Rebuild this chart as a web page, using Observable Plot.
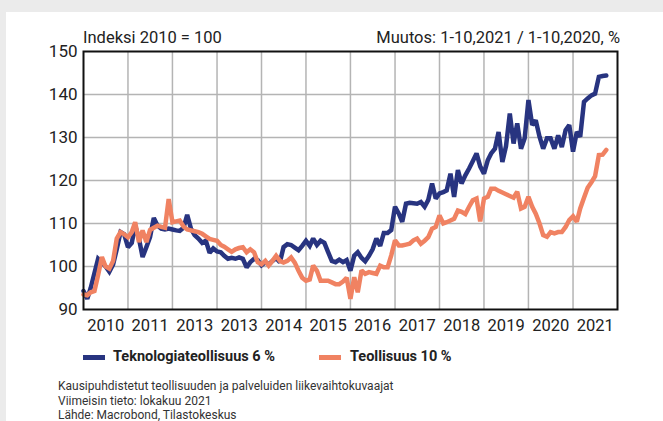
<!DOCTYPE html>
<html>
<head>
<meta charset="utf-8">
<script src="https://cdn.jsdelivr.net/npm/d3@7"></script>
<script src="https://cdn.jsdelivr.net/npm/@observablehq/plot@0.6"></script>
<style>
  html, body { margin: 0; padding: 0; width: 663px; height: 421px; overflow: hidden; background: #ebebeb; font-family: Roboto, "Noto Sans", sans-serif; }
  #card { position: absolute; left: 6px; top: 12px; right: 0; bottom: -20px; background: #fff; }
  #chart { position: absolute; left: 0; top: 0; }
  .t { position: absolute; white-space: nowrap; color: #222; }
  .sw { position: absolute; height: 5px; }
</style>
</head>
<body>
<div id="card"></div>
<div id="chart"></div>
<div class="t" style="left:83px; top:28px; font-size:16.5px;">Indeksi 2010 = 100</div>
<div class="t" style="right:43px; top:28px; font-size:16.5px;">Muutos: 1-10,2021 / 1-10,2020, %</div>
<div class="sw" id="sw1" style="left:83px; top:355px; width:22px;"></div>
<div class="t" id="lg1" style="left:113px; top:348px; font-size:14.5px; font-weight:bold;"></div>
<div class="sw" id="sw2" style="left:319px; top:355px; width:22px;"></div>
<div class="t" id="lg2" style="left:350px; top:348px; font-size:14.5px; font-weight:bold;"></div>
<div class="t" style="left:58px; top:379px; font-size:12px; line-height:14.5px; color:#333;">
Kausipuhdistetut teollisuuden ja palveluiden liikevaihtokuvaajat<br>
Viimeisin tieto: lokakuu 2021<br>
Lähde: Macrobond, Tilastokeskus
</div>
<script>
// Monthly index values, Jan 2010 – Oct 2021 (2010 = 100)
const tekno = [
  94.3, 92.5, 95, 98.5, 101.8, 101, 100, 98.8, 100.5, 104, 108, 107.5,
  104.5, 105.5, 109.5, 106.5, 102.2, 104.5, 106.8, 111.3, 109.5, 108.8, 108.6, 108.8,
  108.6, 108.4, 108.3, 109, 112, 108.8, 107.3, 106.5, 105.5, 106, 103.2, 104.2,
  103.5, 103.3, 102.5, 101.8, 102, 101.8, 102.1, 101.8, 99.8, 101, 101.8, 101.5,
  100.3, 101, 100.5, 101.3, 102, 101, 104.5, 105.2, 105, 104.4, 103.8, 104.8,
  106, 104.8, 106.5, 105, 106, 105.5, 103.4, 101.3, 101, 101.6, 101, 101.5,
  99, 102.5, 103.3, 102, 101.2, 102.5, 104, 106.5, 104.8, 107.8, 107.8, 108.5,
  113.9, 112.3, 110.4, 114.6, 114.8, 114.7, 114.6, 115, 113.9, 115.5, 119.3, 115.8,
  117, 117.3, 117.7, 121.6, 116.2, 122.4, 119.3, 121.2, 122.8, 124.5, 126.3, 123.3,
  121.6, 124.7, 126.3, 127.4, 131.3, 124.3, 128, 135.6, 128.6, 133.3, 127.4, 129.8,
  138.7, 132.9, 134, 130.2, 127.4, 129.8, 129.8, 127.4, 130.5, 127.8, 131.7, 132.9,
  126.7, 131.3, 130.2, 138.3, 139.1, 139.8, 140.2, 144.1, 144.3, 144.4
];
const teollisuus = [
  93.5, 93.3, 94, 94.3, 98, 102.2, 100, 99.5, 101.3, 106.5, 108, 107.5,
  106.8, 108, 110.3, 105.7, 108.4, 105.7, 108.5, 109, 109.5, 109.2, 109, 115.7,
  110.3, 110.5, 110.7, 109.3, 108.6, 108.4, 108.2, 108, 107.6, 107, 106.4, 106.2,
  106, 105, 104.6, 104, 103.4, 104, 104.3, 104.5, 103.3, 104, 103.3, 101,
  100.5, 101.3, 100.2, 101.3, 102.5, 101.3, 100.9, 101.3, 102.1, 100.9, 99, 97.4,
  96.7, 97, 100.2, 99, 96.7, 96.7, 96.7, 96.3, 95.9, 95.9, 96.5, 97.4,
  92.5, 97.5, 94, 99.1, 98.3, 98.7, 98.5, 98.3, 100.2, 99.8, 99.8, 102.6,
  106.1, 104.9, 104.9, 105.1, 105.3, 106.1, 106.5, 105.3, 106, 106.8, 108.8, 109.2,
  111.9, 110, 110.3, 110.7, 111.1, 113, 112.7, 112.2, 113.9, 115.4, 115.8, 110.5,
  115.8, 116.2, 118.1, 118.1, 117.6, 117.2, 116.8, 116.4, 116, 117.4, 113.5, 113.9,
  116.2, 113.9, 112.3, 110, 107.3, 106.9, 108, 107.7, 108, 108, 109.2, 110.8,
  111.7, 110.4, 113.5, 116, 118.3, 119.6, 121, 125.9, 126, 127.1
];
const seriesNames = ["Teknologiateollisuus 6 %", "Teollisuus 10 %"];
const seriesColors = ["#283480", "#f08262"];
const yTicks = [90, 100, 110, 120, 130, 140, 150];
const xLabels = ["2010", "2011", "2013", "2013", "2014", "2015", "2016", "2017", "2018", "2019", "2020", "2021"];
const startYear = 2010;

const monthDate = i => new Date(startYear, i, 1);
const rows1 = tekno.map((v, i) => ({date: monthDate(i), value: v}));
const rows2 = teollisuus.map((v, i) => ({date: monthDate(i), value: v}));
const yearLines = d3.range(1, xLabels.length).map(k => new Date(startYear + k, 0, 1));
const midYears = xLabels.map((_, k) => new Date(startYear + k, 6, 2));

const font = 'Roboto, "Noto Sans", sans-serif';
const plot = Plot.plot({
  width: 663,
  height: 340,
  marginLeft: 83,
  marginRight: 46,
  marginTop: 51,
  marginBottom: 31,
  style: {fontFamily: font, color: "#222", background: "transparent", overflow: "visible"},
  x: {type: "time", domain: [new Date(startYear, 0, 1), new Date(startYear + xLabels.length, 0, 1)]},
  y: {domain: [90, 150]},
  marks: [
    Plot.gridY(yTicks.slice(1, -1), {stroke: "#b4b4b4", strokeOpacity: 1, strokeWidth: 1.5}),
    Plot.gridX(yearLines, {stroke: "#b4b4b4", strokeOpacity: 1, strokeWidth: 1.5}),
    Plot.line(rows1, {x: "date", y: "value", stroke: seriesColors[0], strokeWidth: 4.5, strokeLinejoin: "miter", strokeMiterlimit: 2}),
    Plot.line(rows2, {x: "date", y: "value", stroke: seriesColors[1], strokeWidth: 4.5, strokeLinejoin: "miter", strokeMiterlimit: 2}),
    Plot.frame({stroke: "#111", strokeWidth: 2}),
    Plot.axisY({ticks: yTicks, tickSize: 0, tickPadding: 6, fontSize: 17, label: null}),
    Plot.axisX({ticks: midYears, tickSize: 0, tickPadding: 10, fontSize: 16.5, label: null,
      tickFormat: d => xLabels[d.getFullYear() - startYear]})
  ]
});
document.getElementById("chart").appendChild(plot);
document.getElementById("sw1").style.background = seriesColors[0];
document.getElementById("sw2").style.background = seriesColors[1];
document.getElementById("lg1").textContent = seriesNames[0];
document.getElementById("lg2").textContent = seriesNames[1];
</script>
</body>
</html>
